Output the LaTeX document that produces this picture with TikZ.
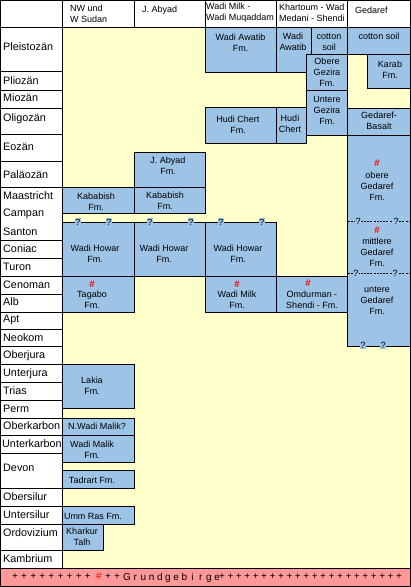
\documentclass[tikz,border=0pt]{standalone}
\usepackage{fontspec}
\setmainfont{Liberation Sans}
\definecolor{boxblue}{RGB}{157,195,230}
\definecolor{bgyellow}{RGB}{255,255,204}
\definecolor{basepink}{RGB}{255,153,153}
\tikzset{
  grid/.style={draw=black, line width=1pt},
  blk/.style={draw=black, fill=boxblue, line width=1pt},
  lbl/.style={font=\fontsize{9}{11}\selectfont, align=center, inner sep=0pt},
  era/.style={font=\fontsize{10.8}{12}\selectfont, anchor=west, inner sep=0pt},
  hdr/.style={font=\fontsize{9}{11}\selectfont, align=left, anchor=west, inner sep=0pt},
  redmark/.style={font=\fontsize{9.5}{11}\selectfont\bfseries, text=red, inner sep=0pt},
  qm/.style={font=\fontsize{9}{10}\selectfont, inner sep=0.8pt, fill=boxblue},
  qline/.style={draw=black, line width=1pt, dash pattern=on 2pt off 1.2pt},
  basech/.style={font=\fontsize{10}{12}\selectfont, inner sep=0pt}
}
\begin{document}
\begin{tikzpicture}[x=1pt,y=-1pt]
\useasboundingbox (0,0) rectangle (411,587);
% backgrounds
\fill[white] (0,0) rectangle (411,587);
\fill[bgyellow] (62,27) rectangle (410,568);
\fill[basepink] (0,568) rectangle (410,586);
% header grid
\draw[grid] (0,27) -- (410,27);
\foreach \x in {62,134,205,276,347} \draw[grid] (\x,0) -- (\x,27);
\draw[grid] (62,27) -- (62,568);
% era lines
\foreach \y in {71,90,108,134,161,187,240,258,276,294,312,329,346,364,382,400,418,435,453,488,506,524,550}
  \draw[grid] (0,\y) -- (62,\y);
\draw[grid] (0,568) -- (410,568);

% header texts
\node[hdr] (hNW) at (70,14) {NW und\\W Sudan};
\node[hdr] (hJA) at (142,10) {J. Abyad};
\node[hdr] (hWM) at (206,13) {Wadi Milk -\\Wadi Muqaddam};
\node[hdr] (hKH) at (279,13) {Khartoum - Wad\\Medani - Shendi};
\node[hdr] (hGE) at (355,10) {Gedaref};

% era labels
\node[era] (e1) at (3,47) {Pleistozän};
\node[era] (e2) at (3,81) {Pliozän};
\node[era] (e3) at (3,98) {Miozän};
\node[era] (e4) at (3,119) {Oligozän};
\node[era] (e5) at (3,147) {Eozän};
\node[era] (e6) at (3,175) {Paläozän};
\node[era] (e7) at (3,196) {Maastricht};
\node[era] (e8) at (3,214) {Campan};
\node[era] (e9) at (3,232) {Santon};
\node[era] (e10) at (3,249) {Coniac};
\node[era] (e11) at (3,267) {Turon};
\node[era] (e12) at (3,285) {Cenoman};
\node[era] (e13) at (3,302) {Alb};
\node[era] (e14) at (3,320) {Apt};
\node[era] (e15) at (3,338) {Neokom};
\node[era] (e16) at (3,356) {Oberjura};
\node[era] (e17) at (3,374) {Unterjura};
\node[era] (e18) at (3,391) {Trias};
\node[era] (e19) at (3,409) {Perm};
\node[era] (e20) at (3,426) {Oberkarbon};
\node[era] (e21) at (2,444) {Unterkarbon};
\node[era] (e22) at (3,468) {Devon};
\node[era] (e23) at (3,497) {Obersilur};
\node[era] (e24) at (3,515) {Untersilur};
\node[era] (e25) at (3,533) {Ordovizium};
\node[era] (e26) at (3,559) {Kambrium};

% ---- column 3/4/5 upper blocks
\draw[blk] (205,27) rectangle (276,72);
\node[lbl] (wa1) at (240.5,43) {Wadi Awatib\\Fm.};
\draw[blk] (276,27) rectangle (311,72);
\node[lbl] (wa2) at (293,42) {Wadi\\Awatib};
\draw[blk] (311,27) rectangle (347,54);
\node[lbl] (cs1) at (329,42) {cotton\\soil};
\draw[blk] (347,27) rectangle (410,54);
\node[lbl] (cs2) at (379,36) {cotton soil};
\draw[blk] (306,54) rectangle (347,90);
\node[lbl] (og) at (327,72) {Obere\\Gezira\\Fm.};
\draw[blk] (367,54) rectangle (410,88);
\node[lbl] (kb) at (390,70) {Karab\\Fm.};
\draw[blk] (306,90) rectangle (347,135);
\node[lbl] (ug) at (327,110) {Untere\\Gezira\\Fm.};
\draw[blk] (347,108) rectangle (410,135);
\node[lbl] (gb) at (379,121) {Gedaref-\\Basalt};
\draw[blk] (205,107) rectangle (276,143);
\node[lbl] (hc1) at (238,125) {Hudi Chert\\Fm.};
\draw[blk] (276,107) rectangle (306,143);
\node[lbl] (hc2) at (290,124) {Hudi\\Chert};

% ---- big Gedaref block
\draw[blk] (347,135) rectangle (410,346);
\node[redmark] (g1) at (377,163) {\#};
\node[lbl] (go) at (377,186) {obere\\Gedaref\\Fm.};
\coordinate (d1a) at (348,221);
\coordinate (d1b) at (410,221);
\draw[qline] (d1a) -- (d1b);
\node[qm] (q1) at (358,221) {?};
\node[qm] (q2) at (396,221) {?};
\node[redmark] (g2) at (377,230) {\#};
\node[lbl] (gm) at (377,252) {mittlere\\Gedaref\\Fm.};
\coordinate (d2a) at (348,273);
\coordinate (d2b) at (410,273);
\draw[qline] (d2a) -- (d2b);
\node[qm] (q3) at (356,273) {?};
\node[qm] (q4) at (395,273) {?};
\node[lbl] (gu) at (377,301) {untere\\Gedaref\\Fm.};
\node[qm] (q5) at (363,345) {?};
\node[qm] (q6) at (383,345) {?};

% ---- J. Abyad / Kababish
\draw[blk] (134,152) rectangle (205,187);
\node[lbl] (ja) at (168,166) {J. Abyad\\Fm.};
\draw[blk] (62,187) rectangle (134,213);
\node[lbl] (kb1) at (96,202) {Kababish\\Fm.};
\draw[blk] (134,187) rectangle (205,213);
\node[lbl] (kb2) at (165,201) {Kababish\\Fm.};

% ---- Wadi Howar
\draw[blk] (62,222.5) rectangle (134,276);
\draw[blk] (134,222.5) rectangle (205,276);
\draw[blk] (205,222.5) rectangle (276,276);
\node[lbl] (wh1) at (95,254) {Wadi Howar\\Fm.};
\node[lbl] (wh2) at (164,254) {Wadi Howar\\Fm.};
\node[lbl] (wh3) at (238,254) {Wadi Howar\\Fm.};
\foreach \x [count=\i] in {78,109,150,191,221,262}
  \node[qm] (qw\i) at (\x,222) {?};

% ---- Cenoman/Alb row
\draw[blk] (62,276) rectangle (134,312);
\node[redmark] (r1) at (92,284) {\#};
\node[lbl] (tg) at (92,299.5) {Tagabo\\Fm.};
\draw[blk] (205,276) rectangle (276,312);
\node[redmark] (r2) at (237,284) {\#};
\node[lbl] (wm) at (237,299.5) {Wadi Milk\\Fm.};
\draw[blk] (276,276) rectangle (347,312);
\node[redmark] (r3) at (308,283) {\#};
\node[lbl] (om) at (312,299.5) {Omdurman -\\Shendi - Fm.};

% ---- Paleozoic / Mesozoic column 1
\draw[blk] (62,364) rectangle (134,408);
\node[lbl] (lk) at (92,386) {Lakia\\Fm.};
\draw[blk] (62,418) rectangle (134,435);
\node[lbl] (nwm) at (97,426) {N.Wadi Malik?};
\draw[blk] (62,435) rectangle (134,462);
\node[lbl] (wml) at (92,450) {Wadi Malik\\Fm.};
\draw[blk] (62,470) rectangle (134,488);
\node[lbl] (td) at (92,480) {Tadrart Fm.};
\draw[blk] (62,506) rectangle (134,524);
\node[lbl] (ur) at (93,516) {Umm Ras Fm.};
\draw[blk] (62,524) rectangle (103,550);
\node[lbl] (kt) at (82,537) {Kharkur\\Talh};

% ---- Grundgebirge
\foreach \i in {0,...,8}
  \node[basech] (p\i) at (15+9.1*\i,576.5) {+};
\node[basech, text=red] (ph) at (99,576.5) {\#};
\node[basech] (pa) at (108,576.5) {+};
\node[basech] (pb) at (117,576.5) {+};
\foreach \c [count=\i from 0] in {G,r,u,n,d,g,e,b,i,r,g,e}
  \node[basech, anchor=base] (l\i) at (127+8.2*\i,580.5) {\c};
\foreach \i in {0,...,21}
  \node[basech] (s\i) at (222+8.43*\i,576.5) {+};

% outer frame
\draw[grid] (0.5,0.5) rectangle (410,586);
\end{tikzpicture}
\end{document}
